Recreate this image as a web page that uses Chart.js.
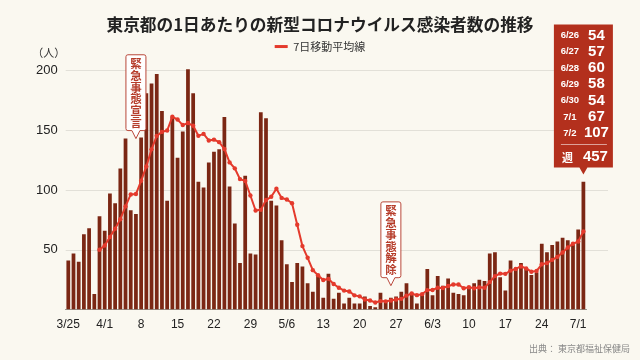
<!DOCTYPE html>
<html lang="ja">
<head>
<meta charset="utf-8">
<script src="https://cdn.jsdelivr.net/npm/chart.js@4.4.0/dist/chart.umd.min.js"></script>
<style>
  html, body { margin: 0; padding: 0; background: #faf8f0; }
  #wrap { width: 640px; height: 360px; position: relative; }
</style>
</head>
<body>
<div id="wrap"><canvas id="tokyo-chart"></canvas></div>
<script>
// 東京都 新規陽性者数 (3/25 - 7/2)
const categories = [
  '3/25','3/26','3/27','3/28','3/29','3/30','3/31',
  '4/1','4/2','4/3','4/4','4/5','4/6','4/7','4/8','4/9','4/10','4/11','4/12','4/13','4/14','4/15',
  '4/16','4/17','4/18','4/19','4/20','4/21','4/22','4/23','4/24','4/25','4/26','4/27','4/28','4/29','4/30',
  '5/1','5/2','5/3','5/4','5/5','5/6','5/7','5/8','5/9','5/10','5/11','5/12','5/13','5/14','5/15','5/16',
  '5/17','5/18','5/19','5/20','5/21','5/22','5/23','5/24','5/25','5/26','5/27','5/28','5/29','5/30','5/31',
  '6/1','6/2','6/3','6/4','6/5','6/6','6/7','6/8','6/9','6/10','6/11','6/12','6/13','6/14','6/15',
  '6/16','6/17','6/18','6/19','6/20','6/21','6/22','6/23','6/24','6/25','6/26','6/27','6/28','6/29','6/30',
  '7/1','7/2'
];

const dailyCases = [
  41, 47, 40, 63, 68, 13, 78,
  66, 97, 89, 118, 143, 83, 80, 144, 181, 189, 197, 166, 91, 161, 127,
  149, 201, 181, 107, 102, 123, 132, 134, 161, 103, 72, 39, 112, 47, 46,
  165, 160, 91, 87, 58, 38, 23, 39, 36, 22, 15, 28, 10, 30, 9, 14,
  5, 10, 5, 5, 11, 3, 2, 14, 8, 10, 11, 15, 22, 14, 5,
  13, 34, 12, 28, 20, 26, 14, 13, 12, 18, 22, 25, 24, 47, 48,
  27, 16, 41, 35, 39, 35, 29, 31, 55, 48, 54, 57, 60, 58, 54,
  67, 107
];

// 7日移動平均
const movingAvg = [
  null, null, null, null, null, null,
  50.0, 53.6, 60.7, 67.7, 75.6, 86.3, 96.3, 96.6, 107.7, 119.7,
  134.0, 145.3, 148.6, 149.7, 161.3, 158.9, 154.3, 156.0, 153.7, 145.3,
  146.9, 141.4, 142.1, 140.0, 134.3, 123.1, 118.1, 109.1, 107.6, 95.4,
  82.9, 83.4, 91.6, 94.3, 101.1, 93.4, 92.1, 88.9, 70.9, 53.1,
  43.3, 33.0, 28.7, 24.7, 25.7, 21.4, 18.3, 15.9, 15.1, 11.9,
  11.1, 8.4, 7.6, 5.9, 7.1, 6.9, 7.6, 8.4, 9.0, 11.7,
  13.4, 12.1, 12.9, 16.3, 16.4, 18.3, 18.0, 19.7, 21.0, 21.0,
  17.9, 18.7, 17.9, 18.6, 18.3, 23.0, 28.0, 30.1, 29.9, 32.6,
  34.0, 36.1, 34.4, 31.7, 32.3, 37.9, 38.9, 41.6, 44.1, 47.7,
  51.9, 55.1, 56.9, 65.3
];

const xTickLabels = ['3/25','4/1','8','15','22','29','5/6','13','20','27','6/3','10','17','24','7/1'];
const yTickValues = [50, 100, 150, 200];

const FONT = "'Liberation Sans', 'Noto Sans CJK JP', sans-serif";
const JP_FONT = "'Noto Sans CJK JP', sans-serif";
const BAR_COLOR = '#7b2714';
const LINE_COLOR = '#e43a2c';

Chart.defaults.font.family = FONT;

// grid lines, callouts, weekly box, unit + source
const overlayPlugin = {
  id: 'overlay',
  beforeDatasetsDraw(chart) {
    const { ctx, chartArea, scales: { y } } = chart;
    ctx.save();
    ctx.strokeStyle = '#e2e0d8';
    ctx.lineWidth = 1;
    yTickValues.forEach(v => {
      const py = Math.round(y.getPixelForValue(v)) + 0.5;
      ctx.beginPath();
      ctx.moveTo(chartArea.left, py);
      ctx.lineTo(chartArea.right + 22, py);
      ctx.stroke();
    });
    ctx.restore();
  },
  afterDatasetsDraw(chart) {
    const { ctx, scales: { x, y } } = chart;

    const drawCallout = (label, tipValue, text) => {
      const cx = x.getPixelForValue(categories.indexOf(label));
      const tipY = y.getPixelForValue(tipValue);
      const w = 20, charH = 11.8, pad = 2.5, ptr = 8;
      const h = text.length * charH + pad * 2;
      const bottom = tipY - ptr, top = bottom - h;
      const l = cx - w / 2, r = cx + w / 2, rad = 2;
      ctx.save();
      ctx.beginPath();
      ctx.moveTo(l + rad, top);
      ctx.lineTo(r - rad, top);
      ctx.quadraticCurveTo(r, top, r, top + rad);
      ctx.lineTo(r, bottom - rad);
      ctx.quadraticCurveTo(r, bottom, r - rad, bottom);
      ctx.lineTo(cx + 4, bottom);
      ctx.lineTo(cx, tipY);
      ctx.lineTo(cx - 4, bottom);
      ctx.lineTo(l + rad, bottom);
      ctx.quadraticCurveTo(l, bottom, l, bottom - rad);
      ctx.lineTo(l, top + rad);
      ctx.quadraticCurveTo(l, top, l + rad, top);
      ctx.closePath();
      ctx.fillStyle = '#ffffff';
      ctx.fill();
      ctx.strokeStyle = '#b9483a';
      ctx.lineWidth = 1;
      ctx.stroke();
      ctx.fillStyle = '#b63d2b';
      ctx.font = 'bold 11.5px ' + JP_FONT;
      ctx.textAlign = 'center';
      ctx.textBaseline = 'middle';
      [...text].forEach((ch, i) => {
        ctx.fillText(ch, cx, top + pad + charH * (i + 0.5) + 0.5);
      });
      ctx.restore();
    };

    drawCallout('4/7', 143, '緊急事態宣言');
    drawCallout('5/26', 20, '緊急事態解除');

    // weekly box
    const weekDates = categories.slice(-7);
    const weekValues = dailyCases.slice(-7);
    const weekTotal = weekValues.reduce((a, b) => a + b, 0);
    const cx = x.getPixelForValue(categories.length - 1);
    const tipY = y.getPixelForValue(113);
    const bottom = tipY - 7, top = bottom - 143;
    const l = cx - 29.5, r = cx + 29.5;
    ctx.save();
    ctx.fillStyle = '#b3301d';
    ctx.beginPath();
    ctx.moveTo(l, top);
    ctx.lineTo(r, top);
    ctx.lineTo(r, bottom);
    ctx.lineTo(cx + 4, bottom);
    ctx.lineTo(cx, tipY);
    ctx.lineTo(cx - 4, bottom);
    ctx.lineTo(l, bottom);
    ctx.closePath();
    ctx.fill();
    ctx.fillStyle = '#ffffff';
    ctx.textAlign = 'center';
    ctx.textBaseline = 'middle';
    weekDates.forEach((d, i) => {
      const ry = top + 11 + i * 16.3;
      ctx.font = 'bold 9.5px ' + FONT;
      ctx.fillText(d, cx - 13.5, ry);
      ctx.font = 'bold 15px ' + FONT;
      ctx.fillText(String(weekValues[i]), cx + 13, ry);
    });
    ctx.strokeStyle = 'rgba(255,255,255,0.55)';
    ctx.lineWidth = 1;
    ctx.beginPath();
    ctx.moveTo(l + 7, Math.round(top + 120) + 0.5);
    ctx.lineTo(r - 6, Math.round(top + 120) + 0.5);
    ctx.stroke();
    ctx.font = 'bold 11px ' + JP_FONT;
    ctx.fillText('週', cx - 16, top + 133);
    ctx.font = 'bold 15px ' + FONT;
    ctx.fillText(String(weekTotal), cx + 12, top + 132.5);
    ctx.restore();
  },
  afterDraw(chart) {
    const { ctx, chartArea } = chart;
    ctx.save();
    ctx.fillStyle = '#333';
    ctx.font = '11px ' + JP_FONT;
    ctx.textAlign = 'center';
    ctx.textBaseline = 'middle';
    ctx.fillText('（人）', chartArea.left - 17, 53);
    ctx.fillStyle = '#888';
    ctx.font = '9px ' + JP_FONT;
    ctx.textAlign = 'right';
    ctx.fillText('出典： 東京都福祉保健局', 630, 349);
    ctx.restore();
  }
};

const ctx = document.getElementById('tokyo-chart').getContext('2d');
new Chart(ctx, {
  type: 'bar',
  data: {
    labels: categories,
    datasets: [{
      type: 'line',
      label: '7日移動平均線',
      data: movingAvg,
      borderColor: LINE_COLOR,
      backgroundColor: LINE_COLOR,
      borderWidth: 2,
      pointRadius: 2.2,
      pointBackgroundColor: LINE_COLOR,
      pointBorderWidth: 0,
      tension: 0,
      order: 0
    }, {
      label: '新規感染者数',
      data: dailyCases,
      backgroundColor: BAR_COLOR,
      barPercentage: 0.72,
      categoryPercentage: 1.0,
      order: 1
    }]
  },
  options: {
    responsive: true,
    maintainAspectRatio: false,
    animation: false,
    layout: { padding: { left: 28, right: 28, top: 0, bottom: 20 } },
    plugins: {
      title: {
        display: true,
        text: '東京都の1日あたりの新型コロナウイルス感染者数の推移',
        color: '#222',
        font: { size: 16.7, weight: 'bold', family: JP_FONT },
        padding: { top: 15, bottom: 2 }
      },
      legend: {
        display: true,
        position: 'top',
        labels: {
          color: '#333',
          font: { size: 11, family: JP_FONT },
          boxWidth: 13,
          boxHeight: 3,
          padding: 4,
          filter: item => item.datasetIndex === 0,
          generateLabels: chart => Chart.defaults.plugins.legend.labels.generateLabels(chart)
            .map(it => Object.assign(it, { lineWidth: 0 }))
        }
      },
      tooltip: { enabled: false }
    },
    scales: {
      x: {
        grid: { display: false, drawTicks: false },
        border: { display: true, color: '#9a9890' },
        ticks: {
          autoSkip: false,
          maxRotation: 0,
          padding: 8,
          color: '#222',
          font: { size: 12 },
          callback: (value, i) => (i % 7 === 0 ? xTickLabels[i / 7] : null)
        }
      },
      y: {
        min: 0,
        max: 207,
        grid: { display: false, drawTicks: false },
        border: { display: false },
        afterBuildTicks: scale => { scale.ticks = yTickValues.map(v => ({ value: v })); },
        ticks: {
          padding: 8,
          color: '#222',
          font: { size: 13 }
        }
      },
      // empty right-hand strip, keeps the plot where the original has it
      yRight: {
        type: 'linear',
        position: 'right',
        display: true,
        grid: { display: false, drawTicks: false },
        border: { display: false },
        ticks: { display: false },
        afterFit: scale => { scale.width = 26; }
      }
    }
  },
  plugins: [overlayPlugin]
});
</script>
</body>
</html>
